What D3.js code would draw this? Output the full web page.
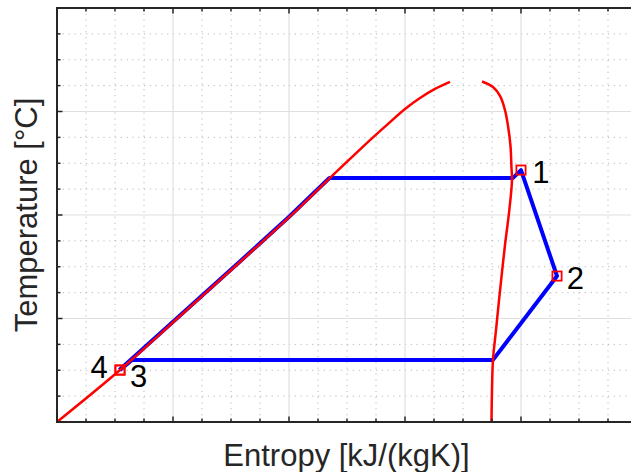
<!DOCTYPE html>
<html><head><meta charset="utf-8">
<script src="https://cdn.jsdelivr.net/npm/d3@7"></script>
<style>body{margin:0;background:#fff;overflow:hidden}svg{display:block}</style>
</head><body>
<svg id="chart" width="631" height="472"></svg>
<script>
// ---- data (entropy kJ/(kgK), temperature °C) ----
const xMajorTicks = [1.0, 1.2, 1.4, 1.6, 1.8, 2.0];
const yMajorTicks = [0, 50, 100, 150, 200];

const satLiquidS = [1.0000, 1.1086, 1.2121, 1.3155, 1.4017, 1.4707, 1.5052, 1.5397, 1.5707, 1.6000, 1.6259, 1.6517, 1.6776];
const satLiquidT = [0.0, 25.1, 51.2, 77.3, 99.3, 117.9, 127.1, 136.2, 144.0, 151.2, 156.5, 160.9, 164.3];

const satVaporS = [1.7328, 1.7517, 1.7638, 1.7724, 1.7776, 1.7819, 1.7836, 1.7845, 1.7793, 1.7724, 1.7621, 1.7569, 1.7517, 1.7500, 1.7491];
const satVaporT = [164.5, 161.8, 157.5, 150.7, 143.0, 133.3, 122.7, 116.9, 101.0, 85.5, 58.9, 44.4, 30.0, 15.5, 0.0];

const cycleS = [1.1076, 1.2111, 1.3145, 1.4007, 1.4697, 1.7862, 1.8000, 1.8621, 1.7517, 1.1293, 1.1086];
const cycleT = [25.1, 51.2, 77.3, 99.3, 117.9, 117.9, 121.7, 70.5, 30.0, 30.0, 25.1];

const stateLabels = ["1", "2", "3", "4"];
const stateS = [1.8000, 1.8621, 1.1086, 1.1086];
const stateT = [121.7, 70.5, 25.1, 25.1];

const xLabel = "Entropy [kJ/(kgK)]";
const yLabel = "Temperature [°C]";

// ---- layout ----
const svg = d3.select("#chart");
const L = 57, T = 8, B = 422, R = 666;
const x = d3.scaleLinear().domain([1.0, 2.05]).range([L, R]);
const y = d3.scaleLinear().domain([0, 200]).range([B, T]);

const xMinor = d3.range(1.0, 2.0501, 0.05).filter(v => !xMajorTicks.some(m => Math.abs(m - v) < 1e-6));
const yMinor = d3.range(0, 200.01, 12.5).filter(v => !yMajorTicks.some(m => Math.abs(m - v) < 1e-6));

const g = svg.append("g");
// minor grid
g.selectAll(".mgx").data(xMinor).join("line")
  .attr("x1", d => x(d)).attr("x2", d => x(d)).attr("y1", T).attr("y2", B)
  .attr("stroke", "#b8b8b8").attr("stroke-width", 1).attr("stroke-dasharray", "1.2,4.6");
g.selectAll(".mgy").data(yMinor).join("line")
  .attr("y1", d => y(d)).attr("y2", d => y(d)).attr("x1", L).attr("x2", R)
  .attr("stroke", "#b8b8b8").attr("stroke-width", 1).attr("stroke-dasharray", "1.2,4.6");
// major grid
g.selectAll(".Mgx").data(xMajorTicks).join("line")
  .attr("x1", d => x(d)).attr("x2", d => x(d)).attr("y1", T).attr("y2", B)
  .attr("stroke", "#dfdfdf").attr("stroke-width", 1.2);
g.selectAll(".Mgy").data(yMajorTicks).join("line")
  .attr("y1", d => y(d)).attr("y2", d => y(d)).attr("x1", L).attr("x2", R)
  .attr("stroke", "#dfdfdf").attr("stroke-width", 1.2);

const line = d3.line().x(d => x(d[0])).y(d => y(d[1]));

// cycle
svg.append("path").datum(cycleS.map((s, i) => [s, cycleT[i]]))
  .attr("d", line).attr("fill", "none").attr("stroke", "#0000ff")
  .attr("stroke-width", 4).attr("stroke-linejoin", "round");

// saturation dome
const curve = d3.line().x(d => x(d[0])).y(d => y(d[1])).curve(d3.curveCatmullRom.alpha(0.5));
svg.append("path").datum(satLiquidS.map((s, i) => [s, satLiquidT[i]]))
  .attr("d", curve).attr("fill", "none").attr("stroke", "#ff0000").attr("stroke-width", 2.5);
svg.append("path").datum(satVaporS.map((s, i) => [s, satVaporT[i]]))
  .attr("d", curve).attr("fill", "none").attr("stroke", "#ff0000").attr("stroke-width", 2.5);

// markers
svg.selectAll(".mk").data(stateS.map((s, i) => [s, stateT[i]])).join("rect")
  .attr("x", d => x(d[0]) - 4.6).attr("y", d => y(d[1]) - 4.6)
  .attr("width", 9.2).attr("height", 9.2)
  .attr("fill", "none").attr("stroke", "#ff0000").attr("stroke-width", 1.8);

// state labels
const offs = [[11.3, 13.3, "start"], [9.7, 13.3, "start"], [10.1, 16.5, "start"], [-12.3, 8, "end"]];
svg.selectAll(".lbl").data(stateLabels).join("text")
  .attr("x", (d, i) => x(stateS[i]) + offs[i][0])
  .attr("y", (d, i) => y(stateT[i]) + offs[i][1])
  .attr("text-anchor", (d, i) => offs[i][2])
  .attr("font-family", "Liberation Sans, Arial, sans-serif").attr("font-size", 31)
  .attr("fill", "#000").text(d => d);

// axes box
const ax = svg.append("g").attr("stroke", "#262626");
ax.append("line").attr("x1", L).attr("x2", R).attr("y1", T).attr("y2", T).attr("stroke-width", 2);
ax.append("line").attr("x1", L).attr("x2", R).attr("y1", B).attr("y2", B).attr("stroke-width", 2);
ax.append("line").attr("x1", L).attr("x2", L).attr("y1", T - 1).attr("y2", B + 1).attr("stroke-width", 2);
// ticks
const tickX = (vals, len) => {
  ax.selectAll(null).data(vals).join("line").attr("x1", d => x(d)).attr("x2", d => x(d))
    .attr("y1", B).attr("y2", B - len).attr("stroke-width", 1.5);
  ax.selectAll(null).data(vals).join("line").attr("x1", d => x(d)).attr("x2", d => x(d))
    .attr("y1", T).attr("y2", T + len).attr("stroke-width", 1.5);
};
const tickY = (vals, len) => {
  ax.selectAll(null).data(vals).join("line").attr("y1", d => y(d)).attr("y2", d => y(d))
    .attr("x1", L).attr("x2", L + len).attr("stroke-width", 1.5);
};
tickX(xMajorTicks, 5.5); tickX(xMinor, 3.5);
tickY(yMajorTicks, 5.5); tickY(yMinor, 3.5);

// axis labels
svg.append("text").attr("x", 346.5).attr("y", 466).attr("text-anchor", "middle")
  .attr("font-family", "Liberation Sans, Arial, sans-serif").attr("font-size", 31)
  .attr("fill", "#262626").text(xLabel);
svg.append("text").attr("transform", "translate(37,215) rotate(-90)").attr("text-anchor", "middle")
  .attr("font-family", "Liberation Sans, Arial, sans-serif").attr("font-size", 31)
  .attr("fill", "#262626").text(yLabel);
</script>
</body></html>
